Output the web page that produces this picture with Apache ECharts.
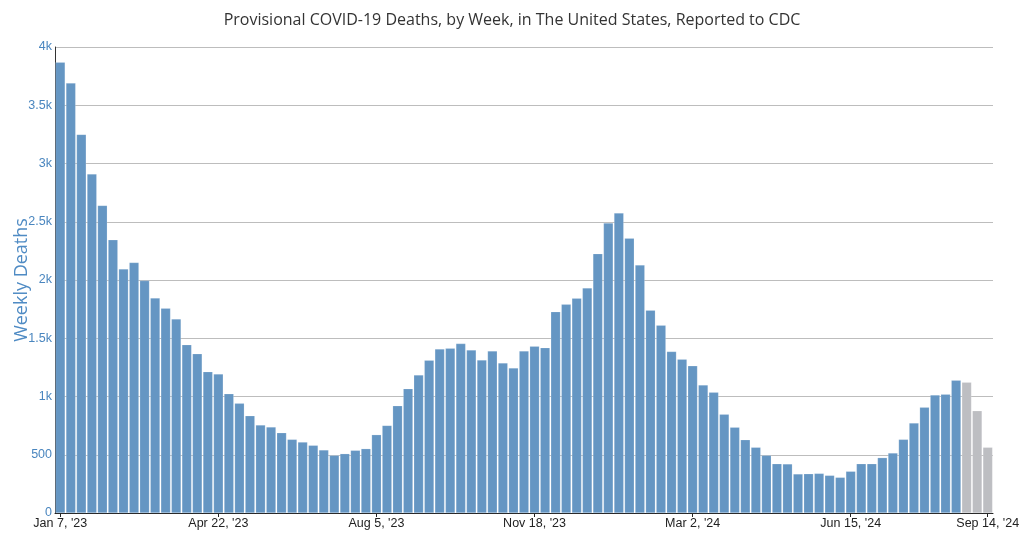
<!DOCTYPE html>
<html>
<head>
<meta charset="utf-8">
<script src="https://cdn.jsdelivr.net/npm/echarts@6/dist/echarts.min.js"></script>
<style>html,body{margin:0;padding:0;background:#fff;}#chart{width:1024px;height:537px;}</style>
</head>
<body>
<div id="chart"></div>
<script>
const weeks = [
"Jan 7, '23","Jan 14, '23","Jan 21, '23","Jan 28, '23","Feb 4, '23","Feb 11, '23","Feb 18, '23","Feb 25, '23",
"Mar 4, '23","Mar 11, '23","Mar 18, '23","Mar 25, '23","Apr 1, '23","Apr 8, '23","Apr 15, '23","Apr 22, '23",
"Apr 29, '23","May 6, '23","May 13, '23","May 20, '23","May 27, '23","Jun 3, '23","Jun 10, '23","Jun 17, '23",
"Jun 24, '23","Jul 1, '23","Jul 8, '23","Jul 15, '23","Jul 22, '23","Jul 29, '23","Aug 5, '23","Aug 12, '23",
"Aug 19, '23","Aug 26, '23","Sep 2, '23","Sep 9, '23","Sep 16, '23","Sep 23, '23","Sep 30, '23","Oct 7, '23",
"Oct 14, '23","Oct 21, '23","Oct 28, '23","Nov 4, '23","Nov 11, '23","Nov 18, '23","Nov 25, '23","Dec 2, '23",
"Dec 9, '23","Dec 16, '23","Dec 23, '23","Dec 30, '23","Jan 6, '24","Jan 13, '24","Jan 20, '24","Jan 27, '24",
"Feb 3, '24","Feb 10, '24","Feb 17, '24","Feb 24, '24","Mar 2, '24","Mar 9, '24","Mar 16, '24","Mar 23, '24",
"Mar 30, '24","Apr 6, '24","Apr 13, '24","Apr 20, '24","Apr 27, '24","May 4, '24","May 11, '24","May 18, '24",
"May 25, '24","Jun 1, '24","Jun 8, '24","Jun 15, '24","Jun 22, '24","Jun 29, '24","Jul 6, '24","Jul 13, '24",
"Jul 20, '24","Jul 27, '24","Aug 3, '24","Aug 10, '24","Aug 17, '24","Aug 24, '24","Aug 31, '24","Sep 7, '24",
"Sep 14, '24"
];
const deaths = [
3870,3690,3250,2910,2640,2345,2095,2150,1995,1845,1757,1665,1445,1367,1213,1193,
1024,941,835,755,738,689,632,609,581,541,495,509,538,552,672,752,
921,1067,1185,1311,1408,1414,1454,1399,1313,1391,1288,1245,1391,1431,1419,1728,
1791,1844,1932,2226,2489,2575,2358,2129,1740,1612,1386,1320,1263,1099,1036,847,
736,629,564,495,423,421,335,337,340,323,306,358,423,423,475,515,
632,772,907,1013,1019,1139,1122,878,564
];
const tickWeeks = ["Jan 7, '23","Apr 22, '23","Aug 5, '23","Nov 18, '23","Mar 2, '24","Jun 15, '24","Sep 14, '24"];
const yTicks = [0,500,1000,1500,2000,2500,3000,3500,4000];
const incompleteFrom = 86;

const chart = echarts.init(document.getElementById('chart'), null, {renderer:'canvas'});
const showTick = (i, v) => tickWeeks.indexOf(weeks[i]) >= 0;
chart.setOption({
  animation:false,
  title:{
    text:'Provisional COVID-19 Deaths, by Week, in The United States, Reported to CDC',
    left:'center', top:7,
    textStyle:{fontFamily:'Open Sans', fontSize:16, fontWeight:'normal', color:'#333'}
  },
  grid:{left:55, right:31, top:47, bottom:24, containLabel:false, outerBoundsMode:'none'},
  xAxis:{
    type:'category', data:weeks, boundaryGap:true,
    axisLine:{lineStyle:{color:'#222', width:1}},
    axisTick:{show:true, alignWithLabel:true, interval:showTick, length:4, lineStyle:{color:'#222'}},
    axisLabel:{interval:showTick, color:'#222', fontFamily:'Liberation Sans', fontSize:12.5, margin:4},
    splitLine:{show:false}
  },
  yAxis:{
    type:'value', min:yTicks[0], max:yTicks[yTicks.length-1], interval:500,
    name:'Weekly Deaths', nameLocation:'middle', nameGap:24, nameMoveOverlap:false,
    nameTextStyle:{color:'#4f8bc4', fontFamily:'Open Sans', fontSize:18},
    axisLine:{show:true, lineStyle:{color:'#333', width:1}},
    axisTick:{show:false},
    axisLabel:{color:'#4a86bf', fontFamily:'Liberation Sans', fontSize:12.5, margin:3,
      formatter:v => v < 1000 ? String(v) : (v/1000) + 'k'},
    splitLine:{show:true, lineStyle:{color:'#bdbdbd', width:1}}
  },
  series:[{
    type:'bar',
    data:deaths.map((v,i) => ({value:v, itemStyle:{color: i >= incompleteFrom ? '#bdbec2' : '#6596c3'}})),
    barCategoryGap:'8%',
    itemStyle:{borderColor:'rgba(255,255,255,0.35)', borderWidth:0.5}
  }]
});
</script>
</body>
</html>
